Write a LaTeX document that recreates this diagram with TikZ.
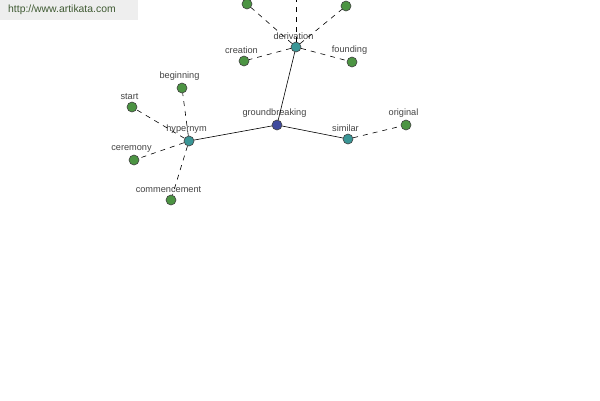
\documentclass[tikz,border=0pt]{standalone}
\usepackage{fontspec}
\setmainfont{Liberation Sans}
\usetikzlibrary{positioning}
\definecolor{hubblue}{HTML}{3F4A9E}
\definecolor{relteal}{HTML}{3A9696}
\definecolor{wordgreen}{HTML}{4C9443}
\definecolor{lblgray}{HTML}{444444}
\definecolor{urlgreen}{HTML}{3F5A32}
\definecolor{barbg}{HTML}{EEEEEE}
\tikzset{
  dot/.style={circle, draw=black!75, line width=0.6pt, minimum size=10pt, inner sep=0pt},
  hubdot/.style={dot, fill=hubblue},
  reldot/.style={dot, fill=relteal},
  worddot/.style={dot, fill=wordgreen},
  lbl/.style={font=\fontsize{9.2}{10}\selectfont, text=lblgray, inner sep=1pt, xshift=-2.5pt, yshift=0.8pt},
  link/.style={draw=black, line width=0.6pt},
  dlink/.style={link, dash pattern=on 5pt off 5pt}
}

\begin{document}
\begin{tikzpicture}[x=1pt, y=-1pt, every label/.style={lbl}, label distance=0pt]
  \useasboundingbox (0,0) rectangle (600,400);
  \fill[white] (0,0) rectangle (600,400);
  \clip (0,0) rectangle (600,400);
  % site banner
  \fill[barbg] (0,0) rectangle (138,20);
  \node[font=\fontsize{10.4}{11}\selectfont, text=urlgreen, anchor=west, inner sep=0pt] (site) at (8,10) {http://www.artikata.com};
  % hub and relations
  \node[hubdot, label=above:groundbreaking] (gb) at (277,125) {};
  \node[reldot, label=above:derivation] (deriv) at (296,47) {};
  \node[reldot, label=above:hypernym] (hyper) at (189,141) {};
  \node[reldot, label=above:similar] (sim) at (348,139) {};
  % words
  \node[worddot] (topl) at (247,4) {};
  \node[worddot] (topc) at (296,-14) {};
  \node[worddot] (topr) at (346,6) {};
  \node[worddot, label=above:creation] (creation) at (244,61) {};
  \node[worddot, label=above:founding] (founding) at (352,62) {};
  \node[worddot, label=above:beginning] (beginning) at (182,88) {};
  \node[worddot, label=above:start] (start) at (132,107) {};
  \node[worddot, label=above:ceremony] (ceremony) at (134,160) {};
  \node[worddot, label=above:commencement] (commence) at (171,200) {};
  \node[worddot, label=above:original] (original) at (406,125) {};
  \draw[link] (gb) -- (deriv);
  \draw[link] (gb) -- (hyper);
  \draw[link] (gb) -- (sim);
  \draw[dlink] (deriv) -- (topl);
  \draw[dlink] (deriv) -- (topc);
  \draw[dlink] (deriv) -- (topr);
  \draw[dlink] (deriv) -- (creation);
  \draw[dlink] (deriv) -- (founding);
  \draw[dlink] (hyper) -- (beginning);
  \draw[dlink] (hyper) -- (start);
  \draw[dlink] (hyper) -- (ceremony);
  \draw[dlink] (hyper) -- (commence);
  \draw[dlink] (sim) -- (original);
\end{tikzpicture}
\end{document}
